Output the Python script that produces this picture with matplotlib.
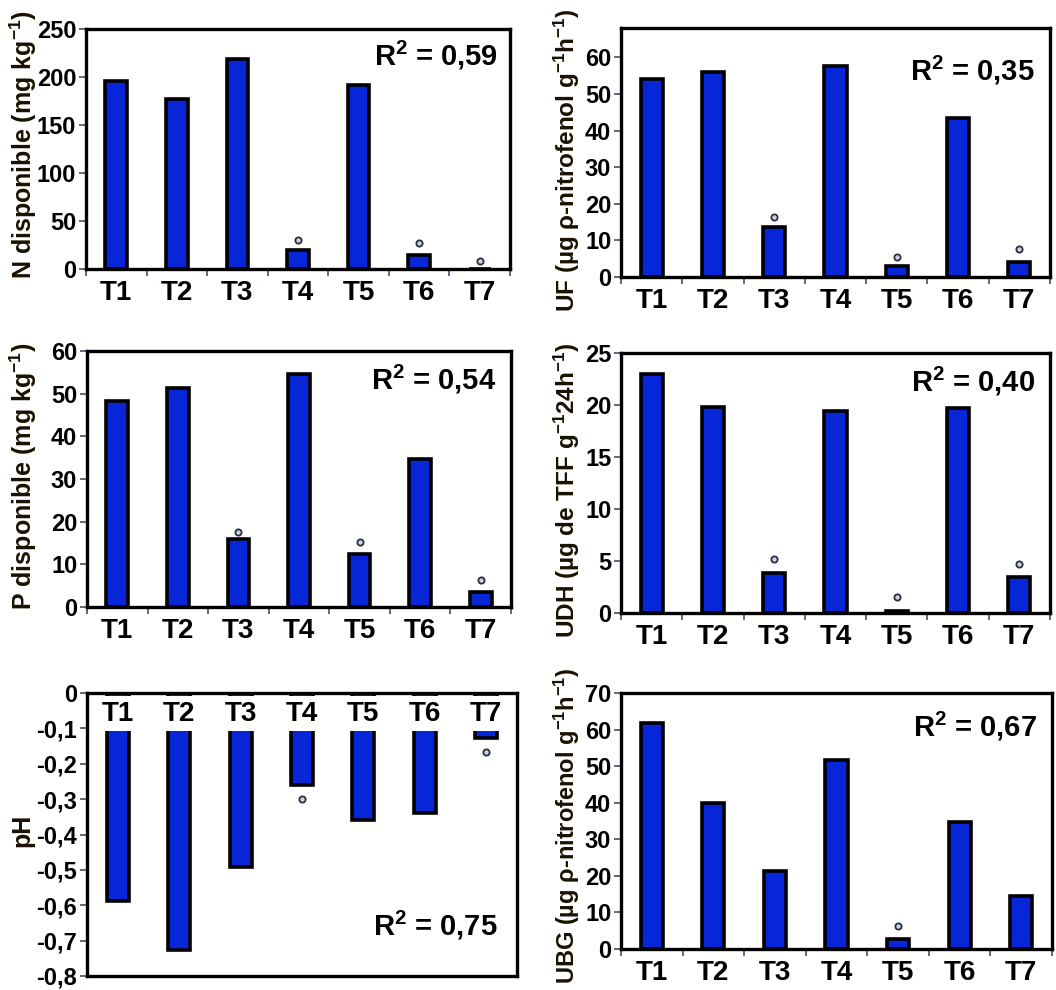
import matplotlib
matplotlib.use("Agg")
import matplotlib.pyplot as plt
import numpy as np

plt.rcParams['font.family'] = ['Liberation Sans', 'DejaVu Sans']
plt.rcParams['font.weight'] = 'bold'
plt.rcParams['mathtext.fontset'] = 'custom'
plt.rcParams['mathtext.rm'] = 'Liberation Sans:bold'
plt.rcParams['mathtext.it'] = 'Liberation Sans:bold'
plt.rcParams['mathtext.bf'] = 'Liberation Sans:bold'

categories = ['T1', 'T2', 'T3', 'T4', 'T5', 'T6', 'T7']

n_disp = [196, 177, 219, 19.5, 192, 14.6, 0]
n_marks = {'T4': 30.5, 'T6': 26.7, 'T7': 8.3}

uf = [54.1, 56.1, 13.6, 57.7, 2.9, 43.4, 4.1]
uf_marks = {'T3': 16.5, 'T5': 5.5, 'T7': 7.6}

p_disp = [48.2, 51.4, 16.0, 54.7, 12.5, 34.7, 3.6]
p_marks = {'T3': 17.5, 'T5': 15.2, 'T7': 6.4}

udh = [23.0, 19.8, 3.8, 19.4, 0.2, 19.7, 3.5]
udh_marks = {'T3': 5.15, 'T5': 1.5, 'T7': 4.7}

ph = [-0.587, -0.727, -0.492, -0.261, -0.359, -0.339, -0.128]
ph_marks = {'T4': -0.299, 'T7': -0.167}

ubg = [61.9, 39.8, 21.2, 51.7, 2.8, 34.7, 14.6]
ubg_marks = {'T5': 6.3}

W, H = 1056, 990
fig = plt.figure(figsize=(W / 100, H / 100), dpi=100)

BAR = '#0626d8'
LAB = '#1a1200'


def add_ax(l, t, r, b):
    return fig.add_axes([l / W, 1 - b / H, (r - l) / W, (b - t) / H])


def panel(box, vals, marks, ylim, yticks, yticklabels, ylabel, ylab_xy, r2, r2_pos, neg=False, ylab_fs=18):
    ax = add_ax(*box)
    x = np.arange(len(categories))
    ax.bar(x, vals, width=0.36, color=BAR, edgecolor='black', linewidth=2.6, zorder=2)
    for k, v in marks.items():
        i = categories.index(k)
        ax.plot(i, v, 'o', ms=4.5, mfc='#c9d2e6', mec='#2a2f3a', mew=1.3, zorder=3, clip_on=False)
    ax.set_xlim(-0.5, len(categories) - 0.5)
    ax.set_ylim(*ylim)
    ax.set_yticks(yticks)
    ax.set_yticklabels(yticklabels, fontsize=17, fontweight='bold')
    for s in ax.spines.values():
        s.set_linewidth(2.4)
    ax.tick_params(axis='y', length=5, width=1.2, color='#44506a', pad=2)
    if not neg:
        ax.set_xticks(x)
        ax.set_xticklabels(categories, fontsize=20, fontweight='bold')
        ax.set_xticks(np.arange(len(categories) + 1) - 0.5, minor=True)
        ax.tick_params(axis='x', which='major', length=0, pad=8)
        ax.tick_params(axis='x', which='minor', length=5, width=1.2, color='#44506a')
    else:
        ax.set_xticks([])
        for i, c in enumerate(categories):
            ax.text(i, -0.058, c, ha='center', va='center', fontsize=20, fontweight='bold',
                    zorder=4, bbox=dict(facecolor='white', edgecolor='none', pad=3.0))
    fig.text(ylab_xy[0] / W, 1 - ylab_xy[1] / H, ylabel, rotation=90, ha='center', va='center',
             fontsize=ylab_fs, fontweight='bold', color=LAB)
    ax.text(r2_pos[0], r2_pos[1], r2, transform=ax.transAxes, ha='right', va='center',
            fontsize=21, fontweight='bold')
    return ax


panel((86, 29, 510, 269), n_disp, n_marks, (0, 250), [0, 50, 100, 150, 200, 250],
      ['0', '50', '100', '150', '200', '250'],
      'N disponible (mg kg$^{-1}$)', (23, 145), 'R$^2$ = 0,59', (0.97, 0.89))

panel((621, 28, 1050, 277), uf, uf_marks, (0, 68), [0, 10, 20, 30, 40, 50, 60],
      ['0', '10', '20', '30', '40', '50', '60'],
      'UF (µg ρ-nitrofenol g$^{-1}$h$^{-1}$)', (567, 160), 'R$^2$ = 0,35', (0.965, 0.83), ylab_fs=17.5)

panel((87, 351, 511, 607), p_disp, p_marks, (0, 60), [0, 10, 20, 30, 40, 50, 60],
      ['0', '10', '20', '30', '40', '50', '60'],
      'P disponible (mg kg$^{-1}$)', (23, 476), 'R$^2$ = 0,54', (0.965, 0.89))

panel((621, 353, 1050, 613), udh, udh_marks, (0, 25), [0, 5, 10, 15, 20, 25],
      ['0', '5', '10', '15', '20', '25'],
      'UDH (µg de TFF g$^{-1}$24h$^{-1}$)', (567, 490), 'R$^2$ = 0,40', (0.965, 0.89), ylab_fs=17.5)

panel((87, 693, 517, 976), ph, ph_marks, (-0.8, 0), [0, -0.1, -0.2, -0.3, -0.4, -0.5, -0.6, -0.7, -0.8],
      ['0', '-0,1', '-0,2', '-0,3', '-0,4', '-0,5', '-0,6', '-0,7', '-0,8'],
      'pH', (22, 830), 'R$^2$ = 0,75', (0.955, 0.18), neg=True)

panel((621, 693, 1052, 949), ubg, ubg_marks, (0, 70), [0, 10, 20, 30, 40, 50, 60, 70],
      ['0', '10', '20', '30', '40', '50', '60', '70'],
      'UBG (µg ρ-nitrofenol g$^{-1}$h$^{-1}$)', (567, 826), 'R$^2$ = 0,67', (0.965, 0.87), ylab_fs=17)

fig.savefig('out.png', dpi=100)
